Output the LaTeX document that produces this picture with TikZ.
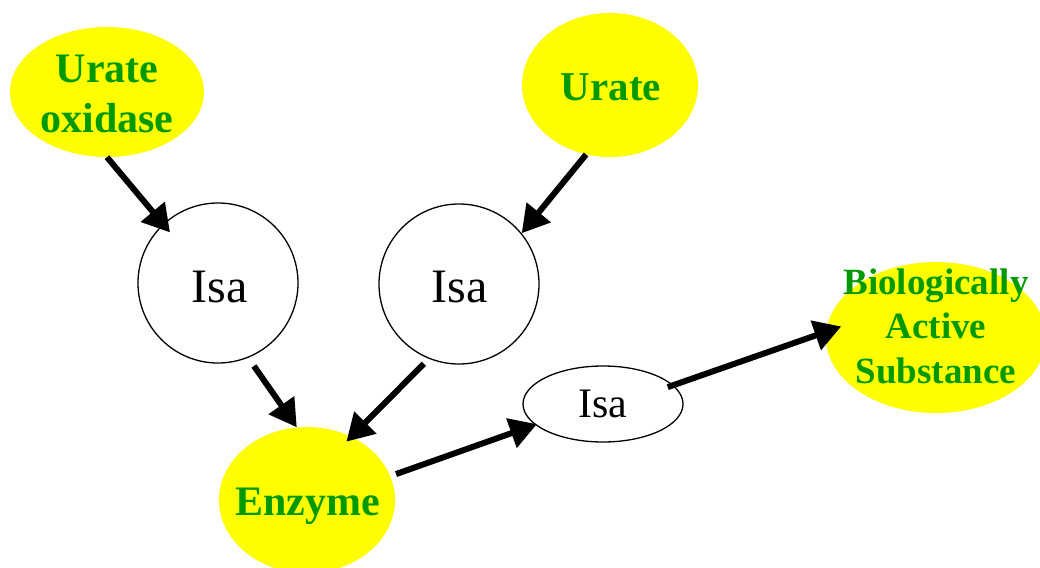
\documentclass[tikz,border=0pt]{standalone}
\usepackage{fontspec}
\setmainfont{Liberation Serif}
\usetikzlibrary{shapes.geometric,arrows.meta}
\definecolor{leafgreen}{RGB}{0,153,0}
\definecolor{conceptyellow}{RGB}{255,255,0}
\begin{document}
\begin{tikzpicture}[x=1pt,y=-1pt,
  conceptshape/.style={ellipse, fill=conceptyellow, draw=none, inner sep=0pt},
  concepttext/.style={text=leafgreen, align=center, inner sep=0pt},
  relation/.style={ellipse, draw=black, line width=1.3pt, inner sep=0pt},
  link/.style={line width=6pt, -{Triangle[length=27pt,width=30pt]}}]
\useasboundingbox (0,0) rectangle (1040,567);
\clip (0,0) rectangle (1040,567);

% concepts (yellow ellipses)
\node[conceptshape, minimum width=194pt, minimum height=130pt] (uo) at (107,92) {};
\node[concepttext, font=\bfseries\fontsize{42}{50}\selectfont] (uo-label) at (107,94) {Urate\\oxidase};

\node[conceptshape, minimum width=176pt, minimum height=144pt] (urate) at (610,85) {};
\node[concepttext, font=\bfseries\fontsize{41}{50}\selectfont] (urate-label) at (611,87) {Urate};

\node[conceptshape, minimum width=176pt, minimum height=146pt] (enzyme) at (307,500) {};
\node[concepttext, font=\bfseries\fontsize{42}{50}\selectfont] (enzyme-label) at (307.5,506) {Enzyme};

\node[conceptshape, minimum width=220pt, minimum height=151pt] (bas) at (936,337.5) {};
\node[concepttext, font=\bfseries\fontsize{37}{44.5}\selectfont] (bas-label) at (936,326) {Biologically\\Active\\Substance};

% relations
\node[relation, minimum width=160pt, minimum height=160pt] (isa1) at (218,283) {};
\node[font=\fontsize{48}{50}\selectfont, inner sep=0pt] (isa1-label) at (219.5,287) {Isa};
\node[relation, minimum width=160pt, minimum height=160pt] (isa2) at (459,284) {};
\node[font=\fontsize{48}{50}\selectfont, inner sep=0pt] (isa2-label) at (459.5,287) {Isa};
\node[relation, minimum width=160pt, minimum height=76pt, font=\fontsize{42}{50}\selectfont] (isa3) at (603,404) {Isa};

% connectors
\draw[link, shorten >=-11pt] (uo.south) -- (isa1.133);
\draw[link] (urate.251) -- (isa2.39);
\draw[link, shorten <=10pt] (isa1.292) -- (enzyme.98);
\draw[link, shorten <=7pt, shorten >=-7pt] (isa2.248) -- (enzyme.55);
\draw[link, shorten <=6pt, shorten >=-2pt] (enzyme.16) -- (isa3.197);
\draw[link, shorten <=-6pt, shorten >=-16pt] (isa3.15) -- (bas.177);
\end{tikzpicture}
\end{document}
